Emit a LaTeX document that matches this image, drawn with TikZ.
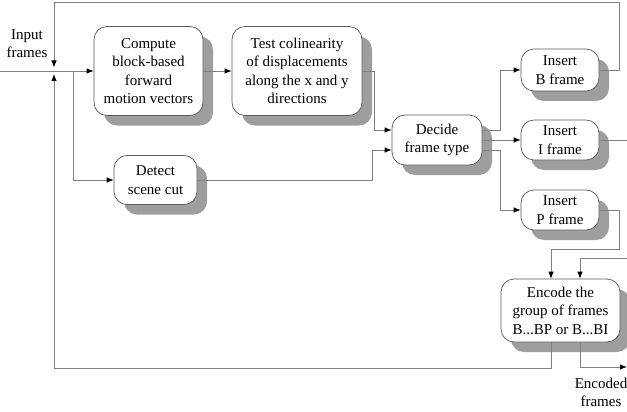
\documentclass[tikz,border=0pt]{standalone}
\usepackage{fontspec}
\setmainfont{Liberation Serif}
\usetikzlibrary{arrows.meta,shadows}
\begin{document}
\begin{tikzpicture}[x=1pt,y=-1pt,
  box/.style={draw=black!65, fill=white, rounded corners=13pt, align=center,
    font=\fontsize{15}{18.5}\selectfont, inner sep=0pt, line width=0.7pt,
    drop shadow={shadow xshift=10pt, shadow yshift=-10pt, fill=black!38, draw=none, opacity=1}},
  lbl/.style={align=center, font=\fontsize{15}{18}\selectfont, inner sep=0pt},
  wire/.style={draw=black!50, line width=0.8pt},
  arr/.style={wire, -{Latex[length=7pt,width=5.5pt,black]}}]
\useasboundingbox (0,0) rectangle (627,412);
% boxes
\node[box, minimum width=109pt, minimum height=89pt] (comp) at (148.5,71) {Compute\\block-based\\forward\\motion vectors};
\node[box, minimum width=130pt, minimum height=89pt] (test) at (297,71) {Test colinearity\\of displacements\\along the x and y\\directions};
\node[box, minimum width=83pt, minimum height=49pt] (det) at (155.5,180) {Detect\\scene cut};
\node[box, minimum width=90pt, minimum height=50pt] (dec) at (437,140) {Decide\\frame type};
\node[box, minimum width=78pt, minimum height=42pt] (insB) at (560,70) {Insert\\B frame};
\node[box, minimum width=78pt, minimum height=40pt] (insI) at (560,140) {Insert\\I frame};
\node[box, minimum width=78pt, minimum height=40pt] (insP) at (560,210) {Insert\\P frame};
\node[box, minimum width=119pt, minimum height=63pt] (enc) at (560.5,310.5) {Encode the\\group of frames\\B...BP or B...BI};
% labels
\node[lbl] (inlbl) at (27,44) {Input\\frames};
\node[lbl] (outlbl) at (601,392) {Encoded\\frames};
% coordinates
\coordinate (in) at (0,71);
\coordinate (br) at (73,71);
\coordinate (iout) at (627,140);
\coordinate (ein) at (627,258);
\coordinate (eout) at (627,367);
% connectors
\draw[arr] (in) -- (comp.west);
\draw[arr] (comp.east) -- (test.west);
\draw[arr] (br) |- (det.west);
\draw[arr] (test.east) -| (374,130) -- ([yshift=10pt]dec.west);
\draw[arr] (det.east) -| (372,150) -- ([yshift=-10pt]dec.west);
\draw[arr] ([yshift=10pt]dec.east) -| (500,70) -- (insB.west);
\draw[arr] (dec.east) -- (insI.west);
\draw[arr] ([yshift=-10pt]dec.east) -| (500,210) -- (insP.west);
\draw[wire] (insI.east) -- (iout);
\draw[arr] (insB.east) -- (619,70) -- (619,2) -- (54,2) -- (54,67.5);
\draw[arr] (insP.east) -- (619,210) -- (619,249) -- (551,249) -- ([xshift=-9.5pt]enc.north);
\draw[arr] (ein) -- (580,258) -- ([xshift=19.5pt]enc.north);
\draw[arr] ([xshift=-9.5pt]enc.south) -- (551,368) -- (54,368) -- (54,74);
\draw[arr] ([xshift=19.5pt]enc.south) -- (580,367) -- (eout);
\end{tikzpicture}
\end{document}
